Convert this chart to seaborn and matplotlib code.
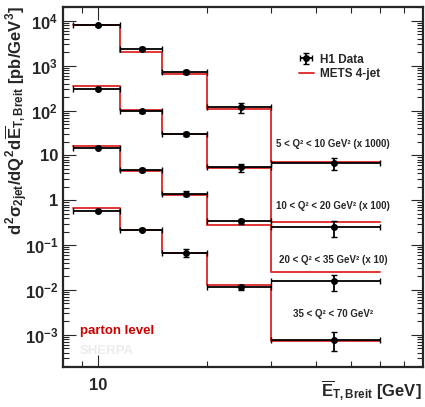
import numpy as np
import pandas as pd
import matplotlib
matplotlib.use("Agg")
import matplotlib.pyplot as plt
from matplotlib.lines import Line2D
import seaborn as sns

# bin edges and data point positions in mean E_T (GeV)
edges = [8.5, 11.5, 15.0, 20.0, 30.0, 60.0]
et_points = [10.0, 13.2, 17.5, 24.9, 44.9]

# Q^2 ranges, scale factors used on the plot
q2_labels = ["5 < Q² < 10 GeV² (x 1000)", "10 < Q² < 20 GeV² (x 100)",
             "20 < Q² < 35 GeV² (x 10)", "35 < Q² < 70 GeV²"]
scales = [1000, 100, 10, 1]

# H1 data (unscaled, pb/GeV^3)
data_q1 = [8.06, 2.43, 0.735, 0.119, 0.00683]
data_q2 = [3.11, 0.97, 0.304, 0.0545, 0.0025]
data_q3 = [1.48, 0.467, 0.141, 0.034, 0.00156]
data_q4 = [0.58, 0.222, 0.067, 0.0114, 0.00078]

# relative total errors
err_q1 = [0.03, 0.08, 0.12, 0.25, 0.30]
err_q2 = [0.04, 0.08, 0.10, 0.20, 0.40]
err_q3 = [0.03, 0.10, 0.12, 0.15, 0.40]
err_q4 = [0.05, 0.06, 0.20, 0.12, 0.45]

# METS 4-jet prediction (unscaled)
mc_q1 = [8.0, 2.05, 0.663, 0.111, 0.0072]
mc_q2 = [3.51, 1.04, 0.293, 0.0528, 0.00335]
mc_q3 = [1.61, 0.444, 0.129, 0.0277, 0.00256]
mc_q4 = [0.66, 0.214, 0.066, 0.0127, 0.00071]

data_all = [data_q1, data_q2, data_q3, data_q4]
err_all = [err_q1, err_q2, err_q3, err_q4]
mc_all = [mc_q1, mc_q2, mc_q3, mc_q4]

sns.set_style("ticks")
plt.rcParams["font.family"] = ["Liberation Sans", "DejaVu Sans"]
plt.rcParams["font.weight"] = "bold"
plt.rcParams["mathtext.fontset"] = "custom"
plt.rcParams["mathtext.rm"] = "Liberation Sans:bold"
plt.rcParams["mathtext.it"] = "Liberation Sans:bold"
plt.rcParams["mathtext.bf"] = "Liberation Sans:bold"

red = "#e03535"

fig = plt.figure(figsize=(4.25, 4.07), dpi=100)
ax = fig.add_axes([63 / 425, 1 - 367 / 407, 360 / 425, 360 / 407])

# MC step histograms
rows = []
for i, mc in enumerate(mc_all):
    vals = list(np.array(mc) * scales[i]) + [mc[-1] * scales[i]]
    for e, v in zip(edges, vals):
        rows.append({"et": e, "xs": v, "series": i})
mc_df = pd.DataFrame(rows)
sns.lineplot(data=mc_df, x="et", y="xs", units="series", estimator=None,
             drawstyle="steps-post", color=red, lw=1.4, ax=ax, zorder=2)

# data points
x = np.array(et_points)
xlo = x - np.array(edges[:-1])
xhi = np.array(edges[1:]) - x
for i in range(4):
    y = np.array(data_all[i]) * scales[i]
    ax.errorbar(x, y, xerr=[xlo, xhi], yerr=y * np.array(err_all[i]),
                fmt="o", ms=4, color="black", ecolor="black", elinewidth=1.3,
                capsize=2, capthick=1.0, zorder=3,
                label="H1 Data" if i == 0 else None)

ax.set_xscale("log")
ax.set_yscale("log")
ax.set_xlim(8.0, 79)
ax.set_ylim(1.9e-4, 2.05e4)

ax.set_xticks([10], ["10"])
ax.set_xticks([9, 20, 30, 40, 50, 60, 70], minor=True)
ax.xaxis.set_minor_formatter(matplotlib.ticker.NullFormatter())
ydec = [1e4, 1e3, 1e2, 10, 1, 0.1, 0.01, 0.001]
ylab = [r"$10^{4}$", r"$10^{3}$", r"$10^{2}$", "10", "1",
        r"$10^{-1}$", r"$10^{-2}$", r"$10^{-3}$"]
ax.set_yticks(ydec, ylab)
ax.yaxis.set_minor_locator(matplotlib.ticker.LogLocator(base=10, subs=np.arange(2, 10), numticks=20))
ax.yaxis.set_minor_formatter(matplotlib.ticker.NullFormatter())
ax.tick_params(which="both", direction="in", top=True, right=True, labelsize=12, width=0.8)
ax.tick_params(which="major", length=9)
ax.tick_params(which="minor", length=4)
ax.tick_params(axis="x", which="major", pad=8)
for s in ax.spines.values():
    s.set_linewidth(1.6)
ax.set_xlabel("")
ax.set_ylabel("")

fig.text(0.04, 0.985,
         r"$d^{2}\sigma_{2jet}/dQ^{2}d\overline{E}_{T,Breit}$ [pb/GeV$^{3}$]",
         rotation=90, ha="center", va="top", fontsize=12, fontweight="bold")
fig.text(0.993, 0.01, r"$\overline{E}_{T,Breit}$ [GeV]", ha="right", va="bottom",
         fontsize=12, fontweight="bold")

# Q^2 range labels
label_pos = [(333, 144), (333, 206), (333, 260), (333, 314)]
for (px, py), txt in zip(label_pos, q2_labels):
    fig.text(px / 425, 1 - py / 407, txt, ha="center", va="center",
             fontsize=7, fontweight="bold")

fig.text(80 / 425, 1 - 331 / 407, "parton level", color="#cc0000",
         ha="left", va="center", fontsize=9.5, fontweight="bold")
fig.text(80 / 425, 1 - 351 / 407, "SHERPA", color="#ececec",
         ha="left", va="center", fontsize=9.5, fontweight="bold")

handles, labels = ax.get_legend_handles_labels()
handles = [h for h, l in zip(handles, labels) if l == "H1 Data"]
handles.append(Line2D([], [], color=red, lw=1.4))
ax.legend(handles, ["H1 Data", "METS 4-jet"], loc="upper left",
          bbox_to_anchor=(288 / 425, 1 - 43 / 407), bbox_transform=fig.transFigure,
          frameon=False, handlelength=1.3, handletextpad=0.5,
          labelspacing=0.2, prop={"weight": "bold", "size": 8.5})

fig.savefig("out.png", dpi=100)
